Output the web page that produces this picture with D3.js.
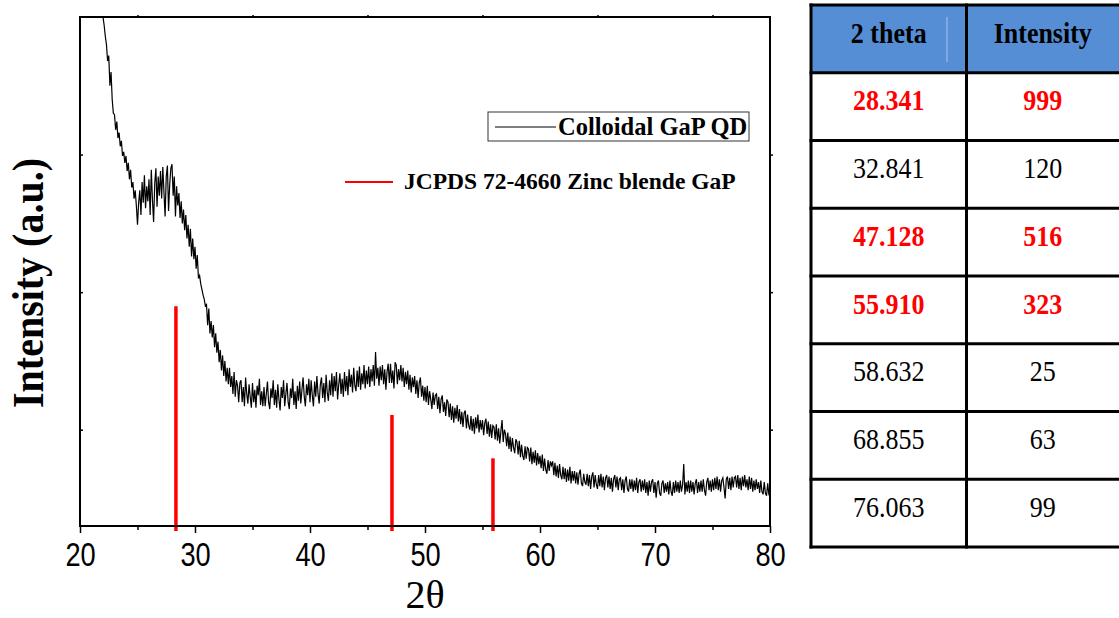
<!DOCTYPE html>
<html>
<head>
<meta charset="utf-8">
<script src="https://cdn.jsdelivr.net/npm/d3@7"></script>
<style>
  body { margin: 0; background: #fff; }
  svg { display: block; }
</style>
</head>
<body>
<svg id="chart" width="1119" height="618"></svg>
<script>
// XRD pattern of colloidal GaP quantum dots, sampled every 0.1 degree from 22 to 80 (2θ)
const twoThetaStart = 22.0;
const twoThetaStep = 0.1;
const intensity = [
  3700, 3640, 3560, 3500, 3380, 3420, 3200, 3300, 3100, 3000,
  2990, 2880, 2940, 2820, 2860, 2760, 2800, 2690, 2720, 2640,
  2690, 2580, 2640, 2520, 2590, 2460, 2500, 2380, 2440, 2330,
  2190, 2350, 2440, 2260, 2500, 2350, 2550, 2310, 2470, 2360,
  2520, 2260, 2590, 2370, 2210, 2490, 2600, 2320, 2540, 2400,
  2580, 2380, 2610, 2430, 2250, 2540, 2620, 2290, 2480, 2600,
  2630, 2400, 2540, 2250, 2470, 2330, 2420, 2240, 2360, 2200,
  2300, 2150, 2260, 2090, 2190, 2030, 2160, 1960, 2090, 1940,
  2030, 1870, 1970, 1800, 1820, 1760, 1720, 1680, 1650, 1600,
  1610, 1460, 1580, 1400, 1490, 1370, 1460, 1300, 1400, 1260,
  1340, 1190, 1280, 1130, 1240, 1090, 1200, 1050, 1150, 1030,
  1150, 1010, 1090, 960, 1120, 940, 1060, 1020, 900, 1040,
  1060, 900, 1010, 870, 1080, 960, 890, 1030, 940, 860,
  1040, 900, 990, 860, 1020, 950, 1070, 880, 980, 870,
  1010, 870, 960, 1050, 900, 850, 1000, 930, 1060, 880,
  990, 860, 1030, 920, 840, 1010, 930, 1060, 870, 960,
  1040, 900, 850, 1000, 930, 1070, 880, 980, 850, 1020,
  910, 1050, 890, 990, 1080, 940, 870, 1030, 950, 1070,
  900, 1060, 950, 870, 1050, 940, 1090, 960, 890, 1030,
  1080, 930, 1040, 900, 1100, 970, 910, 1060, 950, 1110,
  940, 1090, 980, 1120, 920, 1030, 1110, 960, 1070, 940,
  1120, 980, 1090, 950, 1140, 1010, 1100, 970, 1150, 1020,
  980, 1130, 1010, 1160, 990, 1110, 1030, 1170, 1000, 1130,
  1030, 1160, 1010, 1140, 1050, 1170, 1020, 1265, 1070, 1150,
  1020, 1160, 1060, 1170, 1030, 1140, 990, 1120, 1180, 1040,
  1180, 1040, 1130, 1000, 1190, 1170, 1030, 1140, 1060, 1170,
  1050, 1150, 1010, 1120, 1030, 1130, 990, 1100, 970, 1080,
  1010, 1090, 960, 1060, 930, 1040, 1080, 940, 1020, 910,
  1010, 900, 1020, 880, 980, 920, 850, 970, 880, 950,
  960, 850, 940, 820, 920, 950, 830, 900, 800, 920,
  900, 790, 890, 770, 870, 750, 860, 780, 880, 760,
  850, 740, 830, 720, 820, 840, 710, 810, 730, 700,
  800, 690, 780, 670, 790, 710, 810, 680, 770, 700,
  770, 660, 750, 780, 670, 760, 650, 740, 640, 730,
  720, 630, 740, 620, 710, 600, 690, 770, 610, 700,
  670, 580, 680, 560, 650, 540, 640, 570, 530, 630,
  610, 520, 620, 500, 590, 510, 480, 580, 490, 570,
  560, 470, 570, 450, 540, 460, 550, 440, 530, 450,
  510, 420, 520, 400, 490, 410, 380, 480, 400, 470,
  440, 470, 370, 460, 360, 440, 350, 450, 370, 340,
  430, 340, 420, 320, 410, 330, 430, 310, 400, 330,
  400, 310, 390, 300, 380, 410, 310, 290, 380, 320,
  300, 380, 290, 370, 270, 360, 390, 280, 370, 300,
  270, 370, 290, 380, 280, 360, 260, 350, 370, 280,
  360, 270, 350, 250, 340, 370, 280, 360, 260, 340,
  350, 260, 340, 240, 330, 360, 270, 250, 340, 270,
  340, 250, 330, 260, 350, 240, 320, 340, 250, 330,
  260, 340, 240, 320, 220, 330, 250, 320, 340, 240,
  320, 205, 310, 330, 240, 220, 310, 330, 240, 310,
  250, 320, 230, 330, 250, 220, 320, 240, 330, 250,
  320, 240, 330, 250, 300, 450, 230, 320, 250, 330,
  240, 330, 250, 320, 230, 310, 340, 240, 320, 250,
  330, 250, 340, 260, 220, 320, 350, 260, 330, 250,
  340, 260, 350, 270, 360, 260, 340, 250, 330, 350,
  280, 200, 340, 360, 270, 350, 260, 360, 280, 350,
  360, 280, 370, 270, 350, 260, 360, 290, 370, 280,
  340, 260, 360, 270, 350, 250, 330, 260, 340, 270,
  320, 240, 330, 250, 230, 320, 240, 220, 310, 230,
  240
];

// Reference pattern JCPDS 72-4660 (zinc blende GaP)
const tableTheta = ["28.341", "32.841", "47.128", "55.910", "58.632", "68.855", "76.063"];
const tableIntensity = ["999", "120", "516", "323", "25", "63", "99"];
const tableHighlight = [true, false, true, true, false, false, false];
const tableHeaders = ["2 theta", "Intensity"];

const xTicks = [20, 30, 40, 50, 60, 70, 80];
const xMinorTicks = [25, 35, 45, 55, 65, 75];
const yTicks = [700, 1700, 2700];

const legendLabels = ["Colloidal GaP QD", "JCPDS 72-4660 Zinc blende GaP"];
const xTitle = "2θ";
const yTitle = "Intensity (a.u.)";

const svg = d3.select("#chart");
const plot = { left: 80, right: 770, top: 17, bottom: 526 };

const x = d3.scaleLinear().domain([20, 80]).range([plot.left, plot.right]);
const y = d3.scaleLinear().domain([0, 3700]).range([plot.bottom, plot.top]);
// stick heights for the reference peaks start slightly below the frame
const yStick = d3.scaleLinear().domain([0, 1000]).range([plot.bottom + 5, plot.bottom - 220]);

const pattern = intensity.map((v, i) => ({ t: twoThetaStart + i * twoThetaStep, v }));

svg.append("defs").append("clipPath").attr("id", "plot-clip")
  .append("rect")
  .attr("x", plot.left).attr("y", plot.top)
  .attr("width", plot.right - plot.left).attr("height", plot.bottom - plot.top);

// measured pattern
svg.append("path")
  .datum(pattern)
  .attr("clip-path", "url(#plot-clip)")
  .attr("fill", "none")
  .attr("stroke", "#000")
  .attr("stroke-width", 1.2)
  .attr("stroke-linejoin", "miter")
  .attr("d", d3.line().x(d => x(d.t)).y(d => y(d.v)));

// reference sticks (highlighted rows of the table)
const sticks = tableTheta.map((t, i) => ({ t: +t, v: +tableIntensity[i], on: tableHighlight[i] }))
  .filter(d => d.on);
svg.append("g").selectAll("line").data(sticks).join("line")
  .attr("x1", d => x(d.t)).attr("x2", d => x(d.t))
  .attr("y1", yStick(0)).attr("y2", d => yStick(d.v))
  .attr("stroke", "#ff0000").attr("stroke-width", 3.5);

// axes
const axisStyle = g => {
  g.select(".domain").remove();
  g.selectAll(".tick line").attr("stroke", "#000").attr("stroke-width", 1.5);
};

const xAxis = svg.append("g")
  .attr("transform", `translate(0,${plot.bottom})`)
  .call(d3.axisBottom(x).tickValues(xTicks).tickSize(7).tickSizeOuter(0).tickFormat(d3.format("d")))
  .call(axisStyle);
xAxis.selectAll("text")
  .attr("y", 40).attr("dy", 0)
  .attr("fill", "#000")
  .style("font-family", "'Liberation Sans', Arial, sans-serif")
  .style("font-size", "34px")
  .attr("transform", "scale(0.8,1)");

svg.append("g")
  .attr("transform", `translate(0,${plot.bottom})`)
  .call(d3.axisBottom(x).tickValues(xMinorTicks).tickSize(4).tickSizeOuter(0).tickFormat(""))
  .call(axisStyle);

svg.append("g")
  .attr("transform", `translate(0,${plot.top})`)
  .call(d3.axisTop(x).tickValues(xMinorTicks).tickSize(2).tickSizeOuter(0).tickFormat(""))
  .call(axisStyle);

svg.append("g")
  .attr("transform", `translate(${plot.left},0)`)
  .call(d3.axisLeft(y).tickValues(yTicks).tickSize(-3).tickSizeOuter(0).tickFormat(""))
  .call(axisStyle);

svg.append("g")
  .attr("transform", `translate(${plot.right},0)`)
  .call(d3.axisRight(y).tickValues(yTicks).tickSize(3).tickSizeOuter(0).tickFormat(""))
  .call(axisStyle);

// frame
svg.append("rect")
  .attr("x", plot.left).attr("y", plot.top)
  .attr("width", plot.right - plot.left).attr("height", plot.bottom - plot.top)
  .attr("fill", "none").attr("stroke", "#000").attr("stroke-width", 2);

// axis titles
svg.append("text")
  .attr("x", 425).attr("y", 608)
  .attr("text-anchor", "middle")
  .style("font-family", "'Liberation Serif', 'Times New Roman', serif")
  .style("font-size", "40px")
  .text(xTitle);

svg.append("text")
  .attr("transform", "translate(43,283) rotate(-90) scale(1,1.1)")
  .attr("text-anchor", "middle")
  .style("font-family", "'Liberation Serif', 'Times New Roman', serif")
  .style("font-weight", "bold")
  .style("font-size", "40px")
  .text(yTitle);

// legend
const legend = svg.append("g");
legend.append("rect")
  .attr("x", 488).attr("y", 112).attr("width", 261).attr("height", 29)
  .attr("fill", "#fff").attr("stroke", "#333").attr("stroke-width", 1);
legend.append("line")
  .attr("x1", 495).attr("x2", 556).attr("y1", 127).attr("y2", 127)
  .attr("stroke", "#000").attr("stroke-width", 1);
legend.append("text")
  .attr("x", 558).attr("y", 135)
  .style("font-family", "'Liberation Serif', 'Times New Roman', serif")
  .style("font-weight", "bold").style("font-size", "24.5px")
  .text(legendLabels[0]);
legend.append("line")
  .attr("x1", 345).attr("x2", 393).attr("y1", 182).attr("y2", 182)
  .attr("stroke", "#ff0000").attr("stroke-width", 2);
legend.append("text")
  .attr("x", 404).attr("y", 189)
  .style("font-family", "'Liberation Serif', 'Times New Roman', serif")
  .style("font-weight", "bold").style("font-size", "23.5px")
  .text(legendLabels[1]);

// peak table
const tbl = { left: 811, mid: 966.5, right: 1122, top: 5, rowH: 67.75 };
const nRows = tableTheta.length + 1;
const table = svg.append("g");

table.append("rect")
  .attr("x", tbl.left).attr("y", tbl.top)
  .attr("width", tbl.right - tbl.left).attr("height", tbl.rowH)
  .attr("fill", "#558ed5");
table.append("line")
  .attr("x1", 947).attr("x2", 947).attr("y1", tbl.top + 12).attr("y2", tbl.top + 57)
  .attr("stroke", "#a9c6ee").attr("stroke-width", 1);

const rowLines = d3.range(nRows + 1).map(i => tbl.top + i * tbl.rowH);
table.selectAll("line.h").data(rowLines).join("line")
  .attr("class", "h")
  .attr("x1", tbl.left - 1.5).attr("x2", tbl.right)
  .attr("y1", d => d).attr("y2", d => d)
  .attr("stroke", "#000").attr("stroke-width", 3);
table.selectAll("line.v").data([tbl.left, tbl.mid, tbl.right]).join("line")
  .attr("class", "v")
  .attr("x1", d => d).attr("x2", d => d)
  .attr("y1", tbl.top - 1.5).attr("y2", tbl.top + nRows * tbl.rowH + 1.5)
  .attr("stroke", "#000").attr("stroke-width", 3);

const colCenters = [(tbl.left + tbl.mid) / 2, (tbl.mid + tbl.right - 3) / 2];
const cellText = (g, cx, row, txt, bold, color) => {
  g.append("text")
    .attr("transform", `translate(${cx},${tbl.top + row * tbl.rowH + 37.5}) scale(1,1.14)`)
    .attr("text-anchor", "middle")
    .style("font-family", "'Liberation Serif', 'Times New Roman', serif")
    .style("font-size", "26px")
    .style("font-weight", bold ? "bold" : "normal")
    .attr("fill", color)
    .text(txt);
};
tableHeaders.forEach((h, c) => cellText(table, colCenters[c], 0, h, true, "#000"));
tableTheta.forEach((t, i) => {
  const hl = tableHighlight[i];
  cellText(table, colCenters[0], i + 1, t, hl, hl ? "#ff0000" : "#000");
  cellText(table, colCenters[1], i + 1, tableIntensity[i], hl, hl ? "#ff0000" : "#000");
});
</script>
</body>
</html>
